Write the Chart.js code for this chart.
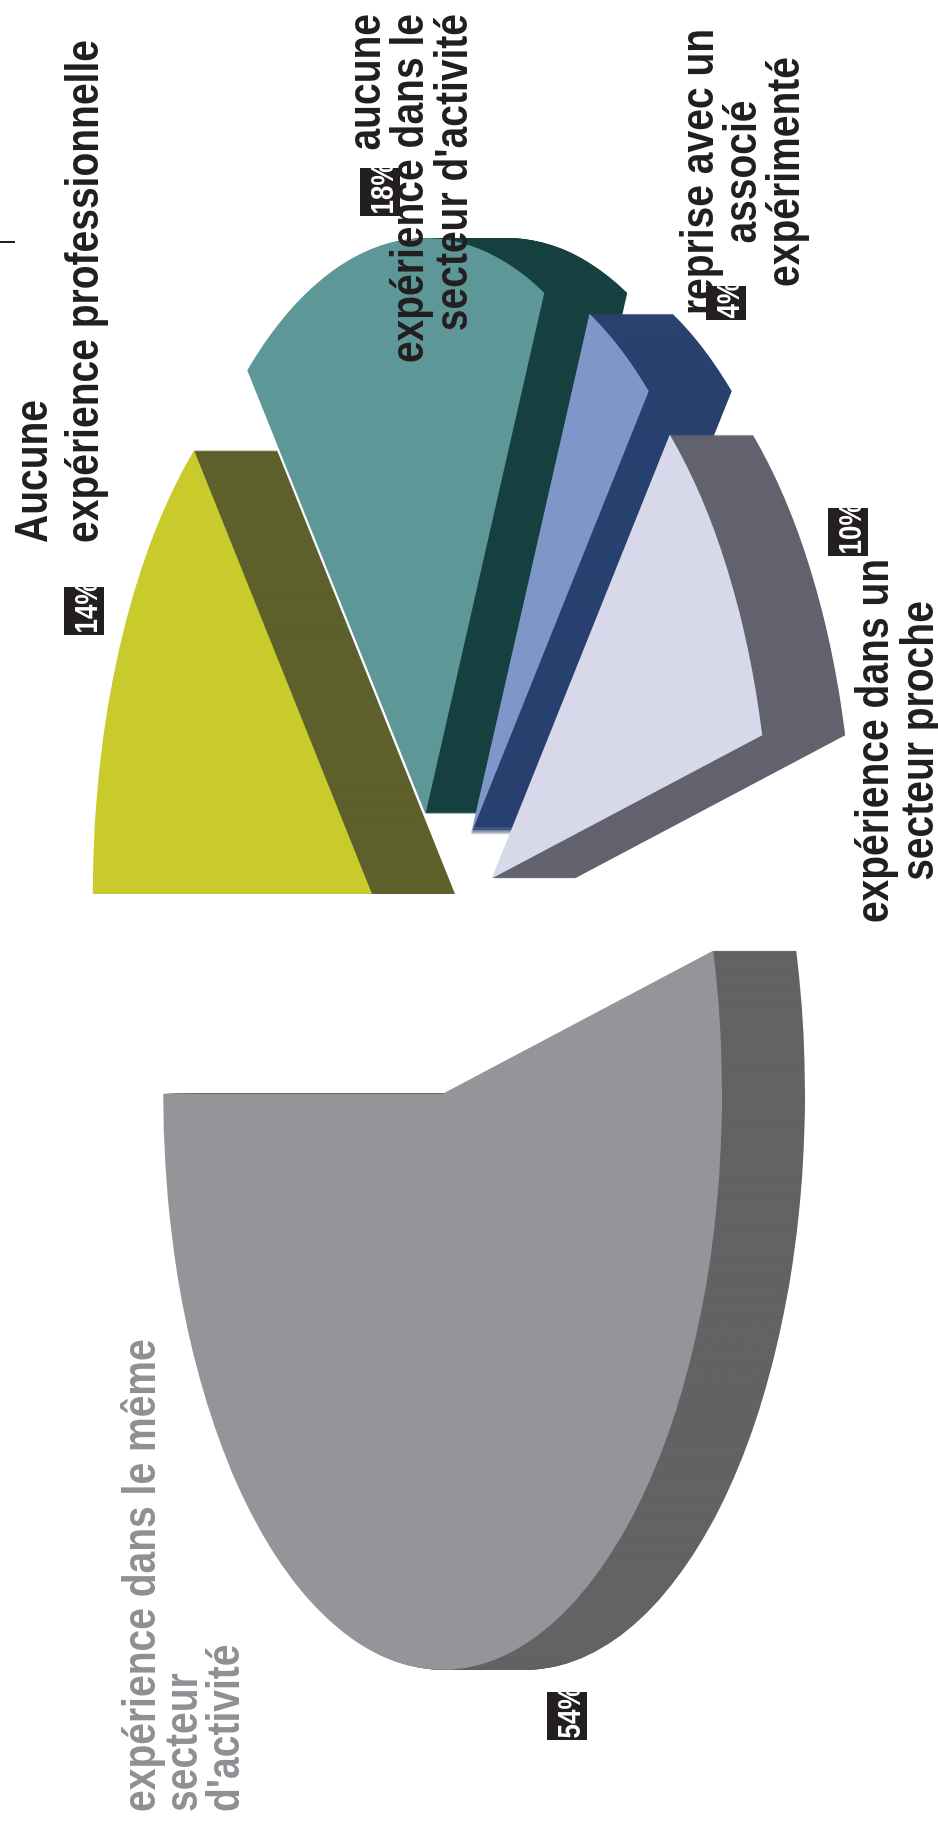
<!DOCTYPE html>
<html lang="fr">
<head>
<meta charset="utf-8">
<title>Expérience du repreneur</title>
<script src="https://cdn.jsdelivr.net/npm/chart.js@4/dist/chart.umd.min.js"></script>
<style>
  html, body { margin: 0; padding: 0; background: #fff; }
  body { width: 938px; height: 1842px; overflow: hidden; position: relative; }
  /* the whole figure is laid out landscape, then turned a quarter to the left */
  #stage {
    position: absolute; left: 0; top: 0;
    width: 1842px; height: 938px;
    transform-origin: 0 0;
    transform: translateY(1842px) rotate(-90deg);
  }
  #pie { position: absolute; left: 0; top: 0; width: 1842px; height: 938px; }
  .label {
    position: absolute; white-space: pre;
    font-family: "Liberation Sans", Arial, Helvetica, sans-serif;
    font-weight: bold; font-size: 47px;
  }
  .pct {
    position: absolute; height: 40px; overflow: hidden;
    background: #231f20;
  }
  .pct span {
    display: block; white-space: nowrap; color: #fff;
    font-family: "Liberation Sans", Arial, Helvetica, sans-serif;
    font-weight: bold; font-size: 32px; line-height: 40px;
    padding: 2px 0 0 2px;
    transform: scaleX(0.81); transform-origin: 0 0;
  }
  .tick { position: absolute; background: #231f20; }
</style>
</head>
<body>
<div id="stage">
  <canvas id="pie" width="1842" height="938"></canvas>
</div>
<script>
// ---- Data -------------------------------------------------------------------
const categoryLines = [
  ['Aucune', 'expérience professionnelle'],
  ['aucune', 'expérience dans le', "secteur d'activité"],
  ['reprise avec un', 'associé', 'expérimenté'],
  ['expérience dans un', 'secteur proche'],
  ['expérience dans le même', 'secteur', "d'activité"]
];
const categories = categoryLines.map(function (l) { return l.join(' '); });
const shares     = [14, 18, 4, 10, 54];
const topColors  = ['#c9cb2c', '#5d9797', '#7f96c9', '#d8d8eb', '#949598'];
const sideColors = ['#5e612c', '#174140', '#29416f', '#63636f', '#636365'];
const textColors = ['#231f20', '#231f20', '#231f20', '#231f20', '#8f9094'];

// ---- Look of the pie --------------------------------------------------------
const TILT    = 0.485; // vertical squash of the disc
const DEPTH   = 83;    // thickness of the slices, screen px
const EXPLODE = 141;   // how far every slice is pulled out of the centre

// Label placement in the landscape frame: text anchor + first baseline,
// line pitch, alignment, and the black percentage tag.
const labelSpots = [
  { u: 1299, v: 47,  lh: 51,   align: 'left',   bu: 1207, bv: 64,  bw: 48 },
  { u: 1828, v: 380, lh: 43.5, align: 'right',  bu: 1626, bv: 360, bw: 48 },
  { u: 1670, v: 713, lh: 43,   align: 'center', bu: 1522, bv: 706, bw: 34 },
  { u: 1101, v: 888, lh: 45,   align: 'center', bu: 1286, bv: 828, bw: 48 },
  { u: 30,   v: 155, lh: 42,   align: 'left',   bu: 102,  bv: 547, bw: 48 }
];

// ---- 3D pie plugin ----------------------------------------------------------
// Squashes the disc, pulls each slice out, builds the walls by stacking the
// slice outline in the darker shade, then lets the ArcElement draw the top.
const pie3d = {
  id: 'pie3d',
  beforeDatasetsDraw(chart) {
    const ctx  = chart.ctx;
    const arcs = chart.getDatasetMeta(0).data;
    if (!arcs.length) return;
    const cx = arcs[0].x, cy = arcs[0].y;

    const pieces = arcs.map(function (arc, i) {
      const mid = (arc.startAngle + arc.endAngle) / 2;
      return { arc: arc, i: i, dx: Math.cos(mid) * EXPLODE, dy: Math.sin(mid) * EXPLODE, depthKey: Math.sin(mid) };
    });
    // back slices first
    pieces.sort(function (a, b) { return a.depthKey - b.depthKey; });

    ctx.save();
    ctx.translate(cx, cy);
    ctx.scale(1, TILT);
    ctx.translate(-cx, -cy);

    pieces.forEach(function (p) {
      const a = p.arc;
      ctx.fillStyle = sideColors[p.i];
      for (let s = DEPTH; s >= 1; s--) {
        const t = s / TILT;
        ctx.beginPath();
        ctx.moveTo(a.x + p.dx, a.y + p.dy + t);
        ctx.arc(a.x + p.dx, a.y + p.dy + t, a.outerRadius, a.startAngle, a.endAngle);
        ctx.closePath();
        ctx.fill();
      }
    });

    pieces.forEach(function (p) {
      ctx.save();
      ctx.translate(p.dx, p.dy);
      p.arc.draw(ctx);
      ctx.restore();
    });

    ctx.restore();
    return false;
  }
};

new Chart(document.getElementById('pie'), {
  type: 'pie',
  data: {
    labels: categories,
    datasets: [{ data: shares, backgroundColor: topColors, borderWidth: 0 }]
  },
  options: {
    responsive: false,
    animation: false,
    devicePixelRatio: 1,
    radius: 576,
    events: [],
    layout: { padding: { left: 0, right: 66, top: 0, bottom: 70 } },
    plugins: { legend: { display: false }, tooltip: { enabled: false } }
  },
  plugins: [pie3d]
});

// ---- Labels -----------------------------------------------------------------
(function () {
  const stage = document.getElementById('stage');
  const FS = 47, SQUEEZE = 0.83, BOX_W = 760;

  categoryLines.forEach(function (lines, i) {
    const spot = labelSpots[i];
    const el = document.createElement('div');
    el.className = 'label';
    const shift = spot.align === 'left' ? 0 : (spot.align === 'center' ? BOX_W / 2 : BOX_W);
    const baseline = (spot.lh - 1.117 * FS) / 2 + 0.905 * FS;
    el.style.left = (spot.u - shift) + 'px';
    el.style.top = (spot.v - baseline) + 'px';
    el.style.width = BOX_W + 'px';
    el.style.lineHeight = spot.lh + 'px';
    el.style.textAlign = spot.align;
    el.style.color = textColors[i];
    el.style.transformOrigin = (spot.align === 'left' ? '0%' : spot.align === 'center' ? '50%' : '100%') + ' 0';
    el.style.transform = 'scaleX(' + SQUEEZE + ')';
    el.textContent = lines.join('\n');
    stage.appendChild(el);
  });

  // percentage tags go on top of the text
  shares.forEach(function (v, i) {
    const spot = labelSpots[i];
    const tag = document.createElement('div');
    tag.className = 'pct';
    tag.style.left = spot.bu + 'px';
    tag.style.top = spot.bv + 'px';
    tag.style.width = spot.bw + 'px';
    const span = document.createElement('span');
    span.textContent = v + '%';
    tag.appendChild(span);
    stage.appendChild(tag);
  });

  // small stray tick at the page edge
  const tick = document.createElement('div');
  tick.className = 'tick';
  tick.style.left = '1599px';
  tick.style.top = '0px';
  tick.style.width = '2px';
  tick.style.height = '15px';
  stage.appendChild(tick);
})();
</script>
</body>
</html>
